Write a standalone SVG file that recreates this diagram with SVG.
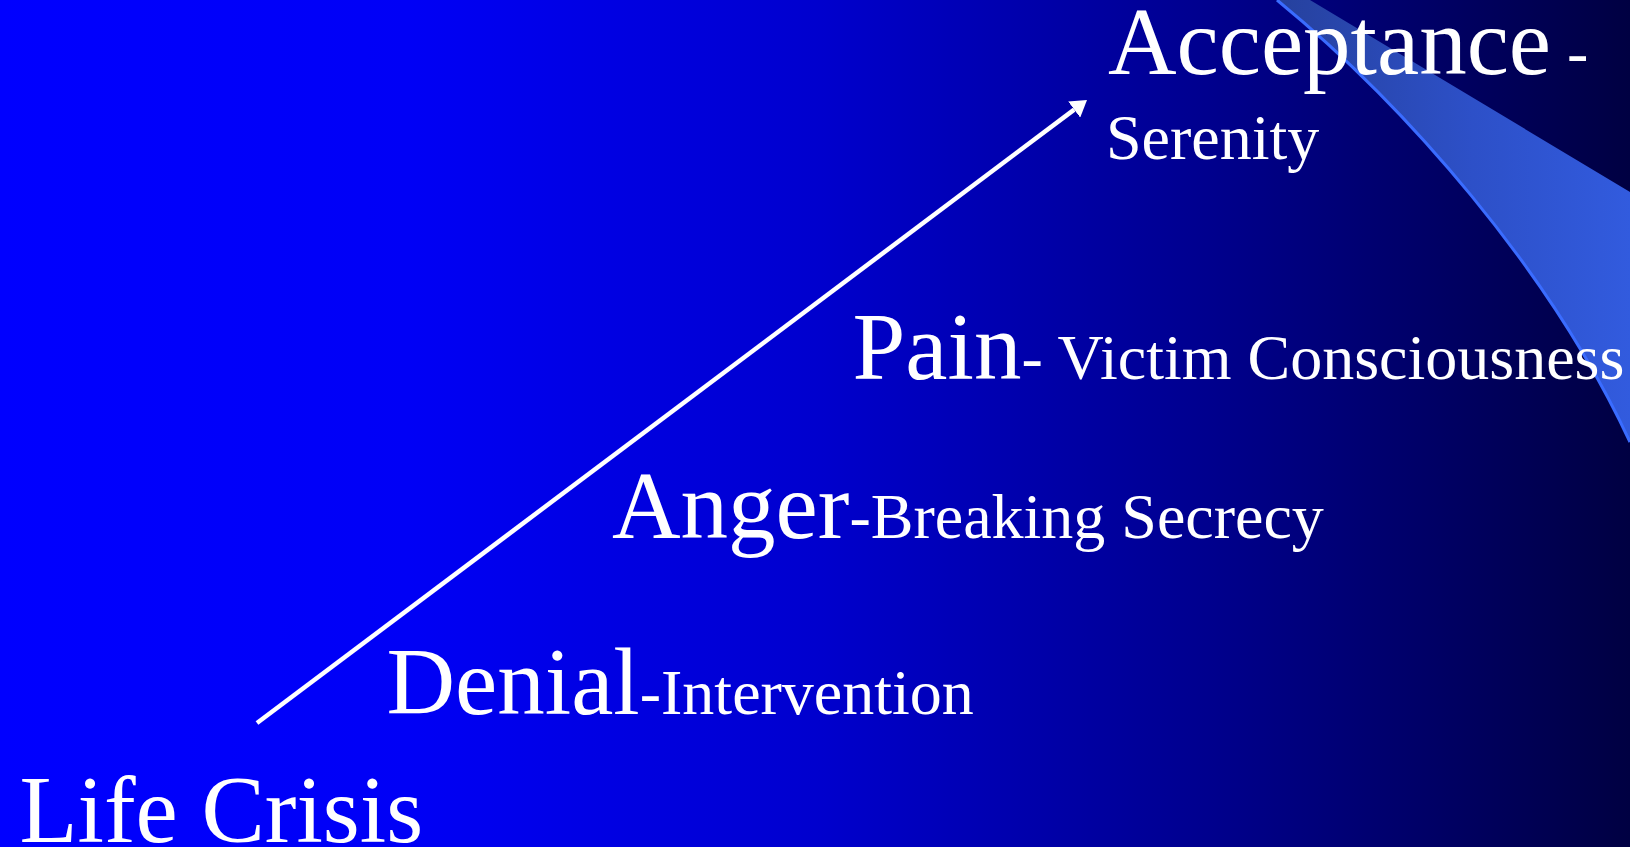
<svg xmlns="http://www.w3.org/2000/svg" width="1630" height="847" viewBox="0 0 1630 847">
  <defs>
    <linearGradient id="bg" x1="0" y1="0" x2="1630" y2="0" gradientUnits="userSpaceOnUse">
      <stop offset="0" stop-color="#0000FF"/>
      <stop offset="0.25" stop-color="#0000F6"/>
      <stop offset="0.5" stop-color="#0000CE"/>
      <stop offset="0.74" stop-color="#00008E"/>
      <stop offset="1" stop-color="#000042"/>
    </linearGradient>
    <linearGradient id="band" x1="1280" y1="0" x2="1630" y2="0" gradientUnits="userSpaceOnUse">
      <stop offset="0" stop-color="#26419E"/>
      <stop offset="0.55" stop-color="#2D50C8"/>
      <stop offset="1" stop-color="#325BDE"/>
    </linearGradient>
    <marker id="head" viewBox="0 0 16 20" refX="0" refY="10" markerWidth="16" markerHeight="20" markerUnits="userSpaceOnUse" orient="auto">
      <path d="M0,0 L16,10 L0,20 z" fill="#FFFFFF"/>
    </marker>
    <style>
      text { font-family: "Liberation Serif", "Times New Roman", serif; fill: #FFFFFF; }
      .big { font-size: 95px; }
      .small { font-size: 64px; }
      .conn { stroke: #FFFFFF; stroke-width: 4.5; fill: none; }
    </style>
  </defs>

  <rect x="0" y="0" width="1630" height="847" fill="url(#bg)"/>

  <g id="swoosh">
    <path d="M1277,0 L1310,0 L1630,192 L1630,442 C1550,270 1405,105 1277,0 z" fill="url(#band)"/>
    <path d="M1277,0 C1405,105 1550,270 1630,442" stroke="#3A6CFF" stroke-width="3" fill="none"/>
  </g>

  <g id="connectors">
    <line class="conn" x1="257" y1="723" x2="1074.2" y2="109.6" marker-end="url(#head)"/>
  </g>

  <g id="life-crisis">
    <text class="big" x="19.5" y="842">Life Crisis</text>
  </g>
  <g id="denial">
    <text x="386.5" y="714"><tspan class="big">Denial</tspan><tspan class="small">-Intervention</tspan></text>
  </g>
  <g id="anger">
    <text x="612" y="538"><tspan class="big">Anger</tspan><tspan class="small">-Breaking Secrecy</tspan></text>
  </g>
  <g id="pain">
    <text x="852.5" y="379"><tspan class="big">Pain</tspan><tspan class="small">- Victim Consciousness</tspan></text>
  </g>
  <g id="acceptance">
    <text x="1108" y="74"><tspan class="big">Acceptance</tspan><tspan class="small"> -</tspan></text>
    <text class="small" x="1106" y="159">Serenity</text>
  </g>
</svg>
